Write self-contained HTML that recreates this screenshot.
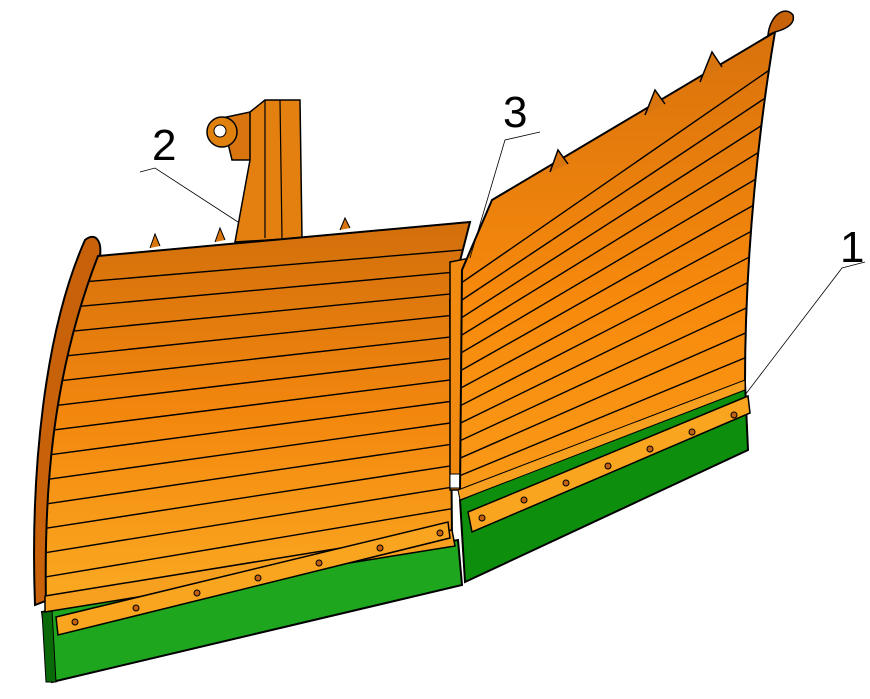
<!DOCTYPE html>
<html><head><style>body{margin:0;background:#fff}svg{display:block}</style></head>
<body>
<svg id="s" width="870" height="699" viewBox="0 0 870 699" xmlns="http://www.w3.org/2000/svg" font-family="Liberation Sans, sans-serif">
<defs>
<linearGradient id="gl" x1="0" y1="0" x2="0" y2="1"><stop offset="0" stop-color="#d26f0c"/><stop offset="0.5" stop-color="#f3870e"/><stop offset="1" stop-color="#fbaa22"/></linearGradient>
<linearGradient id="gr" x1="0" y1="0" x2="0" y2="1"><stop offset="0" stop-color="#d8720c"/><stop offset="0.6" stop-color="#f88a0c"/><stop offset="1" stop-color="#fa9a18"/></linearGradient>
<clipPath id="cl"><path d="M98,256 L470,222 L450,300 L452,540 L46,605 C44,500 50,380 98,256Z"/></clipPath>
<clipPath id="cr"><path d="M492,200 L775,32 C760,120 745,250 745,383 L460,492 L462,270Z"/></clipPath>
</defs>
<path d="M222,118 L250,112 L252,160 L232,160 Z" fill="#d8750e" stroke="#000" stroke-width="1.5"/>
<circle cx="222" cy="132" r="15" fill="#e0800e" stroke="#000" stroke-width="1.5"/>
<circle cx="220" cy="131" r="6" fill="#fff" stroke="#000"/>
<path d="M250,112 L265,100 L300,100 L302,238 L235,242 L250,160Z" fill="#e3800f" stroke="#000" stroke-width="1.5"/>
<path d="M265,100 L265,238 M280,100 L282,238" stroke="#000" stroke-width="1.2" fill="none"/>
<path d="M85,240 C95,232 102,240 100,256 C70,330 55,420 48,600 L35,605 C30,470 45,330 85,240Z" fill="#c8620a" stroke="#000" stroke-width="2"/>
<path d="M98,256 L470,222 L450,300 L452,540 L46,605 C44,500 50,380 98,256Z" fill="url(#gl)" stroke="#000" stroke-width="2"/>
<g id="ll" clip-path="url(#cl)" stroke="#000" stroke-width="1.4"></g>
<path d="M150,248 l5,-14 l5,12 M215,242 l5,-14 l5,12 M340,230 l5,-12 l5,10" stroke="#000" fill="#d8750e"/>
<path d="M450,262 L470,258 L468,490 L450,490Z" fill="#f08a10" stroke="#000" stroke-width="1.5"/>
<rect x="450" y="474" width="14" height="14" fill="#fff" stroke="#000"/>
<path d="M492,200 L775,32 C760,120 745,250 745,383 L460,492 L462,270Z" fill="url(#gr)" stroke="#000" stroke-width="2"/>
<g id="rl" clip-path="url(#cr)" stroke="#000" stroke-width="1.4"></g>
<path d="M768,35 C770,15 785,5 793,15 C795,22 790,28 775,32Z" fill="#c8620a" stroke="#000" stroke-width="1.5"/>
<path d="M550,172 l8,-22 l10,14 M645,115 l10,-25 l10,14 M700,82 l12,-30 l10,15" stroke="#000" stroke-width="1.5" fill="#d8750e"/>
<path d="M42,612 L458,540 L462,585 L52,682 Z" fill="#1ea71e" stroke="#000" stroke-width="2"/>
<path d="M42,612 L52,610 L56,682 L46,682Z" fill="#0a6a0a" stroke="#000"/>
<path d="M45,596 L452,530 L455,546 L45,612Z" fill="#f7a020" stroke="#000" stroke-width="1.5"/>
<path d="M56,617 L448,522 L450,538 L58,635Z" fill="#f9a520" stroke="#000" stroke-width="1.5"/>
<g fill="#c06010" stroke="#000" stroke-width="1"><circle cx="75" cy="622" r="3"/><circle cx="136" cy="608" r="3"/><circle cx="197" cy="593" r="3"/><circle cx="258" cy="578" r="3"/><circle cx="319" cy="563" r="3"/><circle cx="380" cy="548" r="3"/><circle cx="440" cy="533" r="3"/></g>
<path d="M460,500 L745,383 L748,450 L465,582Z" fill="#0d8f0d" stroke="#000" stroke-width="2"/>
<path d="M458,490 L745,380 L745,390 L460,500Z" fill="#f7a020" stroke="#000"/>
<path d="M468,512 L748,396 L750,413 L472,532Z" fill="#f9a520" stroke="#000" stroke-width="1.5"/>
<g fill="#c06010" stroke="#000" stroke-width="1"><circle cx="482" cy="518" r="3"/><circle cx="524" cy="500" r="3"/><circle cx="566" cy="483" r="3"/><circle cx="608" cy="466" r="3"/><circle cx="650" cy="449" r="3"/><circle cx="692" cy="432" r="3"/><circle cx="734" cy="415" r="3"/></g>
<g stroke="#000" stroke-width="0.8" fill="none">
<path d="M140,172 L155,168 L238,222"/><path d="M540,132 L505,140 L470,258"/><path d="M865,262 L842,268 L745,395"/>
</g>
<text x="152" y="160" font-size="44">2</text>
<text x="503" y="127" font-size="44">3</text>
<text x="840" y="262" font-size="44">1</text>
</svg>
<script>
var ns="http://www.w3.org/2000/svg";
function L(g,a,b,c,d,n){var e=document.getElementById(g);for(var i=1;i<n;i++){var t=i/n;var l=document.createElementNS(ns,"line");
l.setAttribute("x1",a[0]);l.setAttribute("y1",a[1]+(c[1]-a[1])*t);l.setAttribute("x2",b[0]);l.setAttribute("y2",b[1]+(d[1]-b[1])*t);e.appendChild(l);}}
L("ll",[30,262],[470,228],[30,604],[470,527],14);
L("rl",[455,270],[790,30],[455,495],[790,365],13);
</script>
</body></html>
